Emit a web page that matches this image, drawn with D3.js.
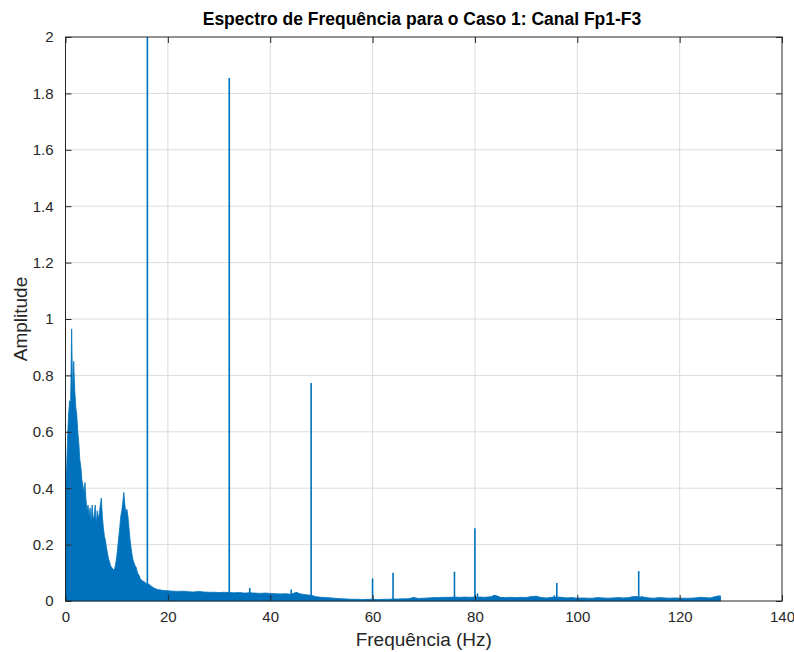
<!DOCTYPE html>
<html>
<head>
<meta charset="utf-8">
<script src="https://cdn.jsdelivr.net/npm/d3@7"></script>
<style>
  html, body { margin: 0; padding: 0; background: #ffffff; }
  svg { display: block; font-family: "Liberation Sans", Arial, Helvetica, sans-serif; }
</style>
</head>
<body>
<svg id="chart" width="794" height="652"></svg>
<script>
// Amplitude spectrum of channel Fp1-F3 (case 1).
// Dense low-frequency band: upper envelope sampled every 0.2 Hz, 0–20 Hz.
const lowBandStep = 0.2;
const lowBandAmp = [
  0.55, 0.42, 0.58, 0.66, 0.71, 0.70, 0.965, 0.72, 0.85, 0.75,
  0.69, 0.66, 0.60, 0.56, 0.50, 0.475, 0.43, 0.41, 0.38, 0.42,
  0.36, 0.32, 0.34, 0.30, 0.33, 0.28, 0.34, 0.29, 0.30, 0.34,
  0.27, 0.32, 0.29, 0.31, 0.34, 0.365, 0.30, 0.26, 0.23, 0.215,
  0.19, 0.17, 0.15, 0.14, 0.125, 0.12, 0.115, 0.11, 0.115, 0.13,
  0.155, 0.19, 0.225, 0.26, 0.30, 0.32, 0.35, 0.385, 0.34, 0.31,
  0.325, 0.30, 0.26, 0.22, 0.19, 0.165, 0.145, 0.135, 0.125, 0.12,
  0.105, 0.095, 0.09, 0.08, 0.075, 0.072, 0.07, 0.068, 0.065, 0.062,
  0.060, 0.060, 0.058, 0.055, 0.052, 0.050, 0.047, 0.045, 0.044, 0.042,
  0.041, 0.040, 0.040, 0.039, 0.038, 0.038, 0.037, 0.038, 0.036, 0.037,
  0.036
];

// Noise floor: upper envelope sampled every 1 Hz, 20–128 Hz.
const highBandStart = 20;
const highBandStep = 1;
const highBandAmp = [
  0.036, 0.035, 0.034, 0.035, 0.033, 0.032, 0.034, 0.032, 0.031, 0.031,
  0.030, 0.031, 0.030, 0.029, 0.030, 0.028, 0.029, 0.028, 0.027, 0.028,
  0.027, 0.026, 0.025, 0.026, 0.024, 0.030, 0.025, 0.022, 0.020, 0.015,
  0.013, 0.012, 0.011, 0.009, 0.008, 0.007, 0.006, 0.006, 0.005, 0.006,
  0.006, 0.005, 0.006, 0.006, 0.007, 0.007, 0.008, 0.008, 0.012, 0.009,
  0.010, 0.011, 0.012, 0.012, 0.013, 0.013, 0.014, 0.013, 0.014, 0.013,
  0.014, 0.014, 0.013, 0.015, 0.020, 0.013, 0.012, 0.013, 0.012, 0.013,
  0.012, 0.016, 0.017, 0.012, 0.011, 0.013, 0.014, 0.013, 0.011, 0.012,
  0.010, 0.011, 0.010, 0.010, 0.012, 0.011, 0.010, 0.011, 0.012, 0.011,
  0.012, 0.016, 0.014, 0.014, 0.011, 0.010, 0.012, 0.011, 0.010, 0.011,
  0.010, 0.010, 0.010, 0.011, 0.013, 0.012, 0.011, 0.016, 0.018
];

// Narrow spectral lines (Hz, amplitude).
const spikeFreq = [16, 32, 36, 44.1, 45.2, 48, 60, 64, 68, 76, 80, 80.5, 83.7, 95.5, 96, 111.5, 112, 112.6, 127.6];
const spikeAmp  = [2.0, 1.855, 0.046, 0.041, 0.032, 0.773, 0.080, 0.100, 0.014, 0.104, 0.258, 0.027, 0.021, 0.020, 0.064, 0.018, 0.106, 0.017, 0.019];

// Axis ticks
const xTicks = [0, 20, 40, 60, 80, 100, 120, 140];
const yTicks = [0, 0.2, 0.4, 0.6, 0.8, 1, 1.2, 1.4, 1.6, 1.8, 2];

const titleText = "Espectro de Frequência para o Caso 1: Canal Fp1-F3";
const xLabelText = "Frequência (Hz)";
const yLabelText = "Amplitude";

const lineColor = "#0072BD";
const axisColor = "#262626";
const gridColor = "#dcdcdc";

const plot = { left: 65.5, right: 782, top: 37, bottom: 601 };

const svg = d3.select("#chart");
const x = d3.scaleLinear().domain([0, 140]).range([plot.left, plot.right]);
const y = d3.scaleLinear().domain([0, 2]).range([plot.bottom, plot.top]);

// Grid
const grid = svg.append("g");
grid.selectAll("line.gx").data(xTicks.slice(1, -1)).join("line")
  .attr("x1", d => x(d)).attr("x2", d => x(d))
  .attr("y1", plot.top).attr("y2", plot.bottom)
  .attr("stroke", gridColor).attr("stroke-width", 1);
grid.selectAll("line.gy").data(yTicks.slice(1, -1)).join("line")
  .attr("y1", d => y(d)).attr("y2", d => y(d))
  .attr("x1", plot.left).attr("x2", plot.right)
  .attr("stroke", gridColor).attr("stroke-width", 1);

// Spectrum band
const band = lowBandAmp.map((a, i) => ({ f: i * lowBandStep, a }))
  .concat(highBandAmp.map((a, i) => ({ f: highBandStart + i * highBandStep, a })).slice(1));

const area = d3.area().x(d => x(d.f)).y0(y(0)).y1(d => y(d.a));
svg.append("path").datum(band)
  .attr("d", area)
  .attr("fill", lineColor)
  .attr("stroke", lineColor)
  .attr("stroke-width", 0.8)
  .attr("stroke-linejoin", "round");

// Spectral lines
svg.append("g").selectAll("line").data(spikeFreq).join("line")
  .attr("x1", d => x(d)).attr("x2", d => x(d))
  .attr("y1", y(0)).attr("y2", (d, i) => y(spikeAmp[i]))
  .attr("stroke", lineColor).attr("stroke-width", 1.6);

// Axes (box with inward ticks on all sides)
const tickLen = 6;
const tickFont = 15;

const xb = d3.axisBottom(x).tickValues(xTicks).tickSize(-tickLen).tickPadding(10).tickFormat(d3.format("d"));
const xt = d3.axisTop(x).tickValues(xTicks).tickSize(-tickLen).tickFormat("");
const yl = d3.axisLeft(y).tickValues(yTicks).tickSize(-tickLen).tickPadding(12).tickFormat(d => String(d));
const yr = d3.axisRight(y).tickValues(yTicks).tickSize(-tickLen).tickFormat("");

function styleAxis(g) {
  g.select(".domain").remove();
  g.selectAll(".tick line").attr("stroke", axisColor);
  g.selectAll(".tick text").attr("fill", axisColor).attr("font-size", tickFont)
    .attr("font-family", "'Liberation Sans', Arial, sans-serif");
}
svg.append("g").attr("transform", `translate(0,${plot.bottom})`).call(xb).call(styleAxis);
svg.append("g").attr("transform", `translate(0,${plot.top})`).call(xt).call(styleAxis);
svg.append("g").attr("transform", `translate(${plot.left},0)`).call(yl).call(styleAxis);
svg.append("g").attr("transform", `translate(${plot.right},0)`).call(yr).call(styleAxis);

svg.append("rect")
  .attr("x", plot.left).attr("y", plot.top)
  .attr("width", plot.right - plot.left).attr("height", plot.bottom - plot.top)
  .attr("fill", "none").attr("stroke", axisColor).attr("stroke-width", 1);

// Labels
svg.append("text")
  .attr("x", 422).attr("y", 25)
  .attr("text-anchor", "middle").attr("font-weight", "bold").attr("font-size", 17.5)
  .attr("fill", "#000").text(titleText);

svg.append("text")
  .attr("x", (plot.left + plot.right) / 2).attr("y", 646)
  .attr("text-anchor", "middle").attr("font-size", 19)
  .attr("fill", axisColor).text(xLabelText);

svg.append("text")
  .attr("transform", `translate(27,${(plot.top + plot.bottom) / 2}) rotate(-90)`)
  .attr("text-anchor", "middle").attr("font-size", 19)
  .attr("fill", axisColor).text(yLabelText);
</script>
</body>
</html>
